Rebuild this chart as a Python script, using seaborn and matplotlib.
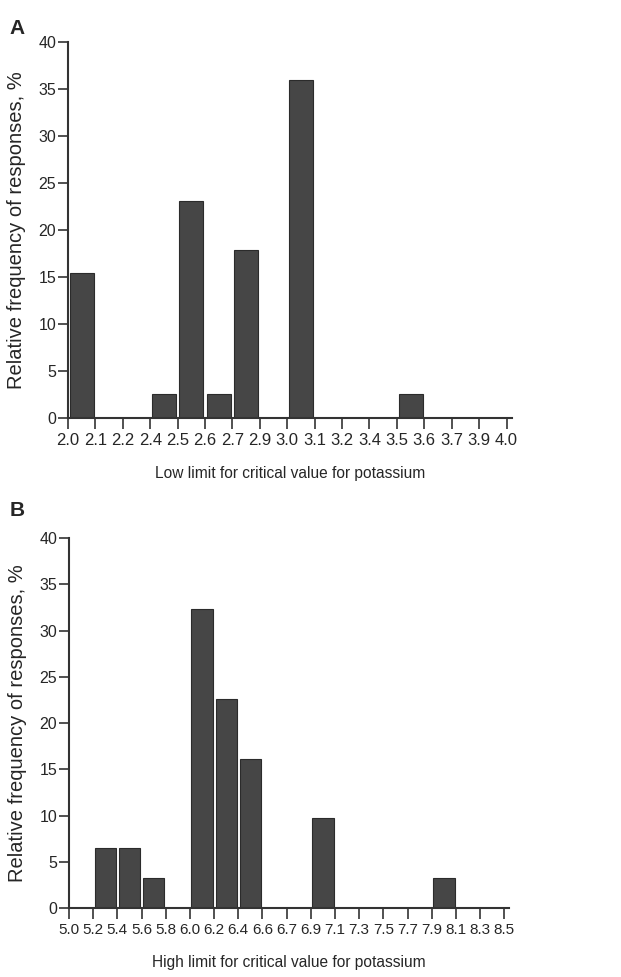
import numpy as np
import pandas as pd
import matplotlib
matplotlib.use("Agg")
import matplotlib.pyplot as plt
import seaborn as sns

# panel A: low limit bins (tick labels are bin edges)
low_edges = ["2.0", "2.1", "2.2", "2.4", "2.5", "2.6", "2.7", "2.9", "3.0",
             "3.1", "3.2", "3.4", "3.5", "3.6", "3.7", "3.9", "4.0"]
low_pct = [15.4, 0, 0, 2.6, 23.1, 2.6, 17.9, 0, 35.9, 0, 0, 0, 2.6, 0, 0, 0]

# panel B: high limit bins
high_edges = ["5.0", "5.2", "5.4", "5.6", "5.8", "6.0", "6.2", "6.4", "6.6", "6.7",
              "6.9", "7.1", "7.3", "7.5", "7.7", "7.9", "8.1", "8.3", "8.5"]
high_pct = [0, 6.45, 6.45, 3.2, 0, 32.3, 22.6, 16.1, 0, 0, 9.7, 0, 0, 0, 0, 3.2, 0, 0]

sns.set_style("ticks")
plt.rcParams['font.family'] = ['Liberation Sans', 'DejaVu Sans']

fig = plt.figure(figsize=(6.21, 9.77), dpi=100)
axA = fig.add_axes([0.1095, 0.5722, 0.715, 0.385])
axB = fig.add_axes([0.111, 0.0706, 0.709, 0.3787])


def panel(ax, edges, pct, xlabel, tsize):
    n = len(pct)
    df = pd.DataFrame({"bin": [str(i) for i in range(n)], "pct": pct})
    sns.barplot(data=df, x="bin", y="pct", ax=ax, color="#464646",
                saturation=1, width=0.88, edgecolor="#2b2b2b", linewidth=0.8)
    ax.set_xlim(-0.5, n - 0.3)
    ax.set_ylim(0, 40)
    ax.set_xticks(np.arange(n + 1) - 0.5)
    ax.set_xticklabels(edges, fontsize=tsize)
    ax.set_yticks(range(0, 41, 5))
    ax.tick_params(axis="y", labelsize=11.5, length=7, width=1.2, pad=1.5,
                   color="#333333")
    ax.tick_params(axis="x", length=8, width=1.2, pad=2.5, color="#333333")
    for s in ["top", "right"]:
        ax.spines[s].set_visible(False)
    for s in ["left", "bottom"]:
        ax.spines[s].set_linewidth(1.5)
        ax.spines[s].set_color("#333333")
    ax.set_xlabel(xlabel, fontsize=11.2, labelpad=13)
    ax.set_ylabel("Relative frequency of responses, %", fontsize=14.5, labelpad=9)


panel(axA, low_edges, low_pct, "Low limit for critical value for potassium", 12)
panel(axB, high_edges, high_pct, "High limit for critical value for potassium", 11)

fig.text(0.016, 0.965, "A", fontsize=15, fontweight="bold")
fig.text(0.016, 0.472, "B", fontsize=15, fontweight="bold")

fig.savefig("out.png", dpi=100)
